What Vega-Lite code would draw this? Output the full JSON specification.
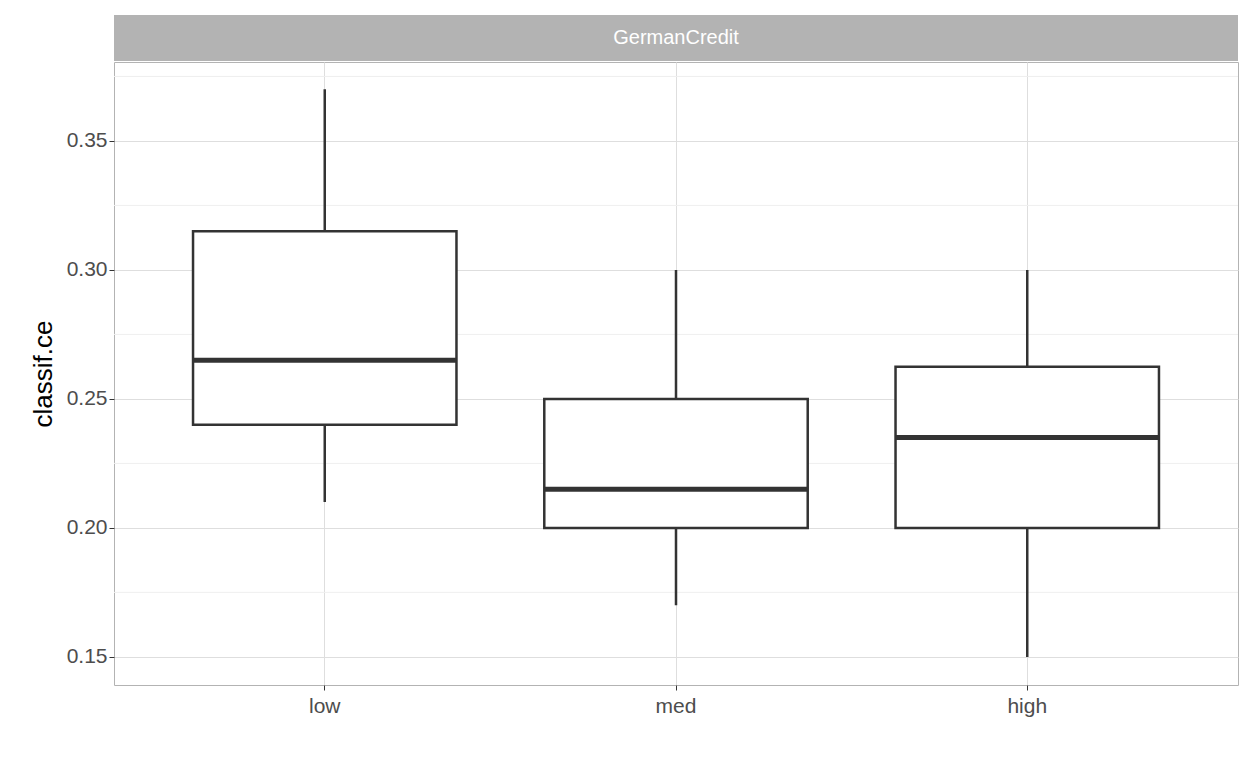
{
  "$schema": "https://vega.github.io/schema/vega-lite/v6.json",
  "background": "white",
  "padding": {"left": 29, "top": 15, "right": 16, "bottom": 5},
  "spacing": 0,
  "config": {"font": "Liberation Sans", "view": {"stroke": "#b3b3b3"}, "concat": {"spacing": 0}},
  "datasets": {
    "boxes": [
      {"lrn": "low", "min": 0.21, "q1": 0.24, "med": 0.265, "q3": 0.315, "max": 0.37},
      {"lrn": "med", "min": 0.17, "q1": 0.20, "med": 0.215, "q3": 0.25, "max": 0.30},
      {"lrn": "high", "min": 0.15, "q1": 0.20, "med": 0.235, "q3": 0.2625, "max": 0.30}
    ],
    "minor": [{"v": 0.175}, {"v": 0.225}, {"v": 0.275}, {"v": 0.325}, {"v": 0.375}]
  },
  "vconcat": [
    {
      "width": 1124,
      "height": 46,
      "data": {"values": [{"task": "GermanCredit"}]},
      "view": {"stroke": null},
      "layer": [
        {"mark": {"type": "rect", "color": "#b3b3b3"}, "encoding": {}},
        {"mark": {"type": "text", "color": "white", "fontSize": 20}, "encoding": {"text": {"field": "task"}}}
      ]
    },
    {
      "width": 1124,
      "height": 623,
      "data": {"name": "boxes"},
      "encoding": {
        "x": {
          "field": "lrn", "type": "nominal", "sort": ["low", "med", "high"],
          "scale": {"paddingInner": 0, "paddingOuter": 0.1},
          "axis": {"title": null, "labelAngle": 0, "labelFontSize": 21, "labelColor": "#4d4d4d", "tickColor": "#333333", "tickSize": 5, "domain": false, "grid": true, "bandPosition": 0.5, "gridColor": "#dedede", "labelPadding": 5}
        }
      },
      "layer": [
        {
          "data": {"name": "minor"},
          "mark": {"type": "rule", "color": "#efefef", "strokeWidth": 1},
          "encoding": {"x": null, "y": {"field": "v", "type": "quantitative"}}
        },
        {
          "mark": {"type": "rule", "color": "#333333", "strokeWidth": 2.5},
          "encoding": {
            "y": {
              "field": "min", "type": "quantitative",
              "scale": {"domain": [0.1391, 0.3806], "nice": false, "zero": false},
              "axis": {"title": "classif.ce", "titleFontSize": 26, "titleFontWeight": "normal", "titleColor": "black", "labelFontSize": 21, "labelColor": "#4d4d4d", "values": [0.15, 0.2, 0.25, 0.3, 0.35], "format": ".2f", "tickColor": "#333333", "tickSize": 5, "domain": false, "gridColor": "#dedede", "titlePadding": 10}
            },
            "y2": {"field": "max"}
          }
        },
        {
          "mark": {"type": "bar", "fill": "white", "stroke": "#333333", "strokeWidth": 2.5, "width": {"band": 0.75}},
          "encoding": {"y": {"field": "q1", "type": "quantitative"}, "y2": {"field": "q3"}}
        },
        {
          "mark": {"type": "tick", "color": "#333333", "opacity": 1, "size": 263, "thickness": 5},
          "encoding": {"y": {"field": "med", "type": "quantitative"}}
        }
      ]
    }
  ]
}
